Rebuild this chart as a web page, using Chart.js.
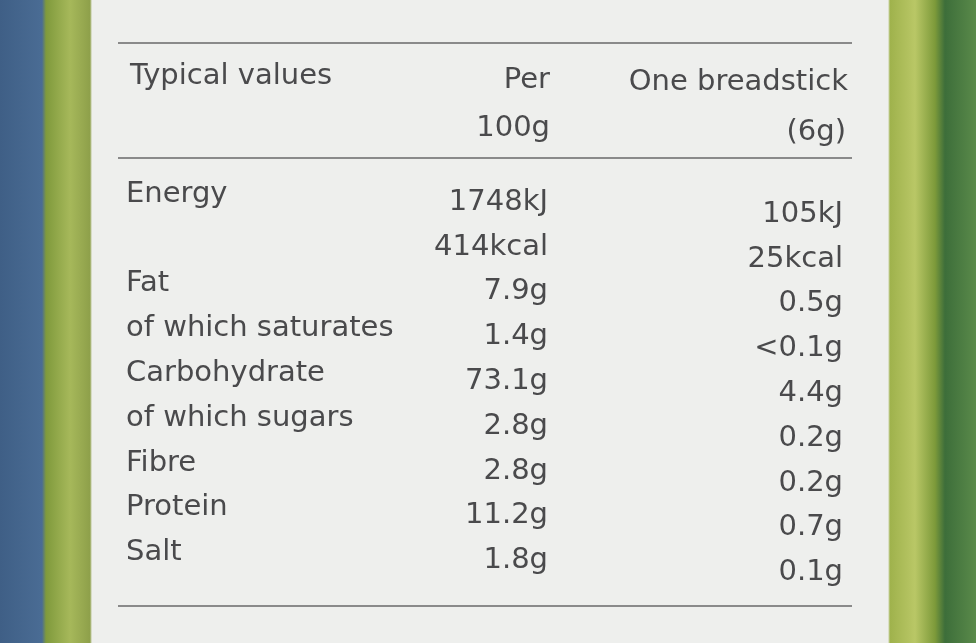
<!DOCTYPE html>
<html><head><meta charset="utf-8">
<script src="https://cdn.jsdelivr.net/npm/chart.js"></script>
<style>
html,body{margin:0;padding:0;}
body{width:976px;height:643px;overflow:hidden;
 background:linear-gradient(90deg,#3f5f86 0,#4a6c94 42px,#7f9a3c 46px,#a6b85a 70px,#8ea04a 90px,#eeefed 92px,#eeefed 888px,#9fb24c 890px,#b9c766 915px,#7d9a3a 935px,#3d6e3a 945px,#5a8a4a 976px);}
#wrap{position:absolute;left:0;top:0;width:976px;height:643px;}
</style></head><body>
<div id="wrap"><canvas id="label"></canvas></div>
<script>
const nutrients = ['Energy', '', 'Fat', 'of which saturates', 'Carbohydrate', 'of which sugars', 'Fibre', 'Protein', 'Salt'];
const per100g = ['1748kJ', '414kcal', '7.9g', '1.4g', '73.1g', '2.8g', '2.8g', '11.2g', '1.8g'];
const perStick = ['105kJ', '25kcal', '0.5g', '<0.1g', '4.4g', '0.2g', '0.2g', '0.7g', '0.1g'];
const headers = [['Typical values', ''], ['Per', '100g'], ['One breadstick', '(6g)']];

const font = '29px "DejaVu Sans", sans-serif';
const ink = '#4a4a4c';

const tablePlugin = {
  id: 'table',
  afterDatasetsDraw(chart) {
    const c = chart.ctx, y = chart.scales.y;
    c.save();
    c.font = font; c.fillStyle = ink; c.textBaseline = 'middle';
    // rules
    c.strokeStyle = '#8a8a8a'; c.lineWidth = 2;
    [[118, 43], [118, 158], [118, 606]].forEach(([x, yy]) => {
      c.beginPath(); c.moveTo(x, yy); c.lineTo(852, yy); c.stroke();
    });
    // header
    c.textAlign = 'left'; c.fillText(headers[0][0], 130, 76);
    c.textAlign = 'right';
    c.fillText(headers[1][0], 550, 80); c.fillText(headers[1][1], 550, 128);
    c.fillText(headers[2][0], 848, 82); c.fillText(headers[2][1], 846, 132);
    // rows
    nutrients.forEach((n, i) => {
      const py = y.getPixelForValue(i);
      c.textAlign = 'left'; c.fillText(n, 126, py - 8);
      c.textAlign = 'right';
      c.fillText(per100g[i], 548, py);
      c.fillText(perStick[i], 843, py + 12);
    });
    c.restore();
  }
};

new Chart(document.getElementById('label'), {
  type: 'line',
  data: {
    labels: nutrients.map((_, i) => i),
    datasets: [{ data: nutrients.map((_, i) => i), pointRadius: 0, borderWidth: 0, showLine: false }]
  },
  options: {
    responsive: true, maintainAspectRatio: false, animation: false,
    layout: { padding: { top: 180, bottom: 60 } },
    plugins: { legend: { display: false }, tooltip: { enabled: false } },
    scales: {
      x: { display: false },
      y: { type: 'category', labels: nutrients.map((_, i) => i), offset: true, display: false }
    }
  },
  plugins: [tablePlugin]
});
</script>
</body></html>
